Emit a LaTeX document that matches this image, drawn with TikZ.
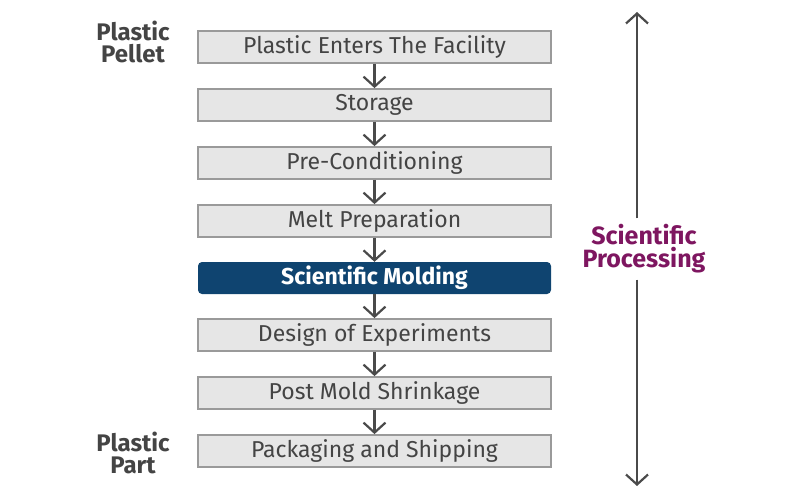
\documentclass[tikz,border=0pt]{standalone}
\usepackage{fontspec}
\setmainfont{Fira Sans}
\usetikzlibrary{arrows.meta}
\definecolor{boxfill}{HTML}{E6E6E6}
\definecolor{boxline}{HTML}{9A9A9A}
\definecolor{darkbox}{HTML}{0F4470}
\definecolor{txtgray}{HTML}{444444}
\definecolor{arrgray}{HTML}{4A4A4A}
\definecolor{purp}{HTML}{7E1660}
\tikzset{
  stepbox/.style={draw=boxline, line width=1.8pt, fill=boxfill, minimum width=353pt, minimum height=32pt, inner sep=0pt, text=txtgray, font=\fontsize{23}{26}\selectfont},
  keybox/.style={fill=darkbox, rounded corners=4pt, minimum width=353pt, minimum height=32pt, inner sep=0pt, text=white, font=\fontsize{23}{26}\selectfont\bfseries},
  flow/.style={draw=arrgray, line width=2.2pt, -{Straight Barb[length=10pt,width=22pt,line width=2.2pt]}},
  bigflow/.style={draw=arrgray, line width=2.2pt, -{Straight Barb[length=10pt,width=22pt,line width=2.2pt]}},
  sidelabel/.style={align=center, text=txtgray, font=\fontsize{24}{22}\selectfont\bfseries},
}
\begin{document}
\begin{tikzpicture}[x=1pt,y=-1pt]
\useasboundingbox (0,0) rectangle (800,500);
\node[stepbox] (b1) at (374.5,47) {Plastic Enters The Facility};
\node[stepbox] (b2) at (374.5,105) {Storage};
\node[stepbox] (b3) at (374.5,163) {Pre-Conditioning};
\node[stepbox] (b4) at (374.5,221) {Melt Preparation};
\node[keybox] (b5) at (374.5,278) {Scientific Molding};
\node[stepbox] (b6) at (374.5,335) {Design of Experiments};
\node[stepbox] (b7) at (374.5,393) {Post Mold Shrinkage};
\node[stepbox] (b8) at (374.5,451) {Packaging and Shipping};
\foreach \a/\b in {b1/b2,b2/b3,b3/b4,b4/b5,b5/b6,b6/b7,b7/b8}
  \draw[flow] (\a.south) -- (\b.north);
\node[sidelabel] (pp) at (133,42) {Plastic\\Pellet};
\node[sidelabel] (pt) at (133,453) {Plastic\\Part};
\node[align=center, text=purp, inner sep=6pt, font=\fontsize{25}{23}\selectfont\bfseries] (sp) at (644,249) {Scientific\\Processing};
\coordinate (top) at (637,12);
\coordinate (bot) at (637,486);
\draw[bigflow] (sp.north -| top) -- (top);
\draw[bigflow] (sp.south -| bot) -- (bot);
\end{tikzpicture}
\end{document}
